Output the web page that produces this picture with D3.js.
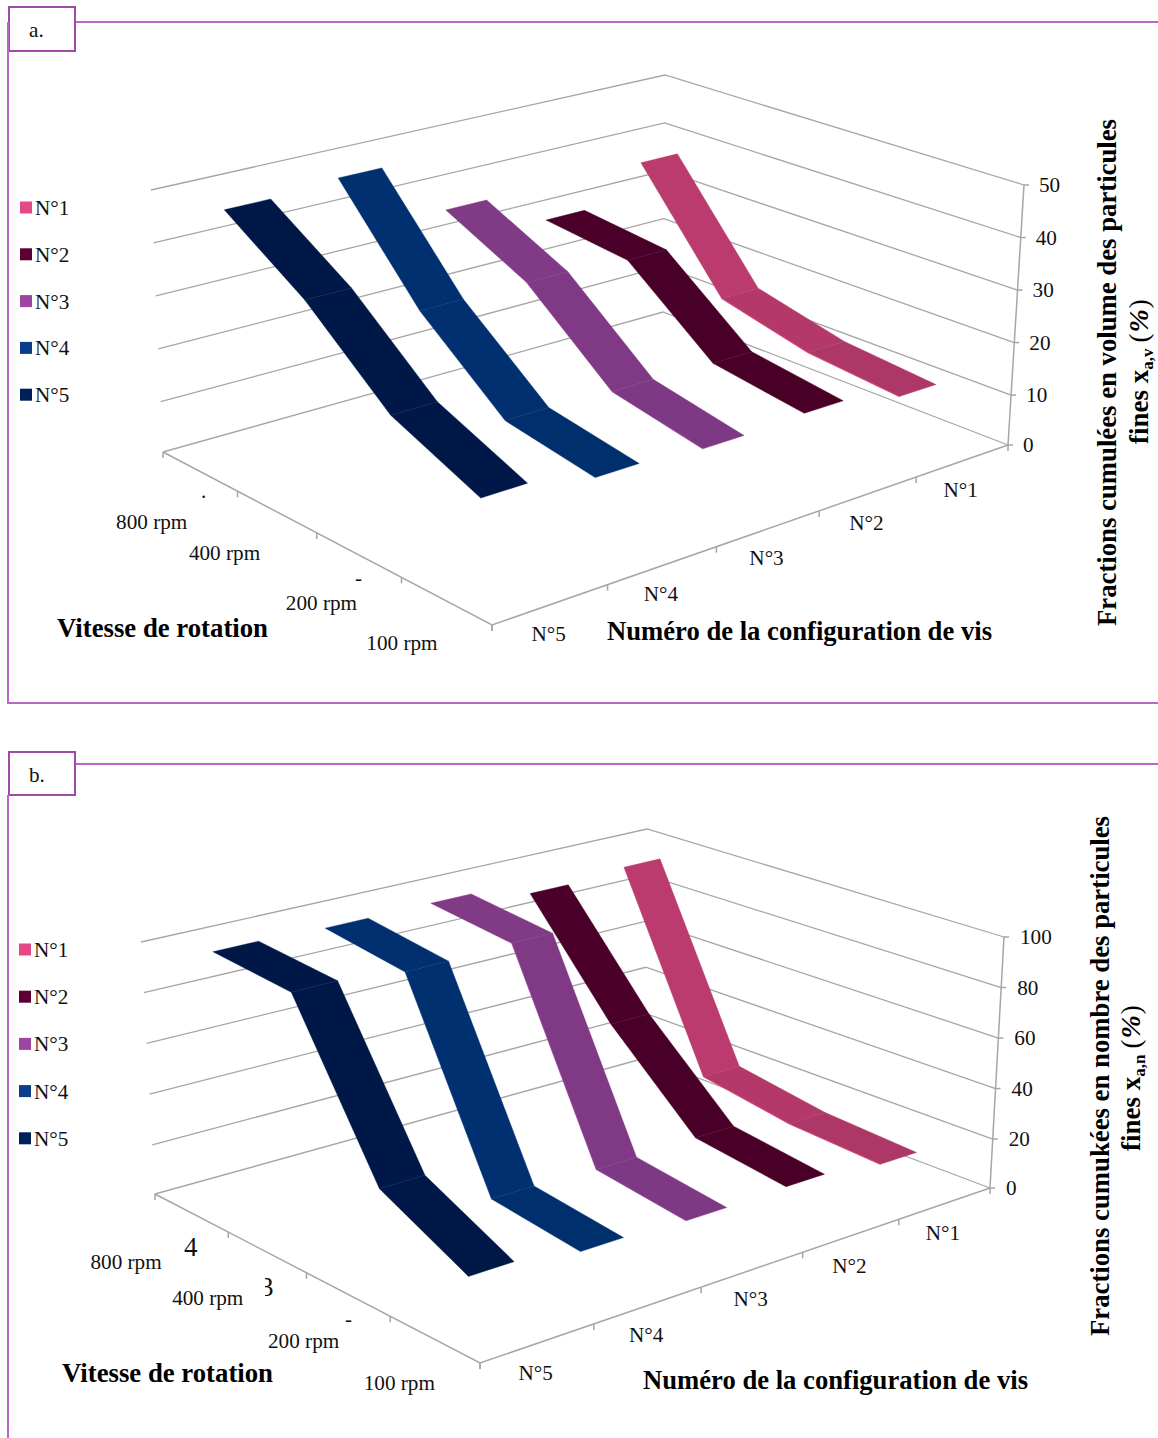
<!DOCTYPE html>
<html><head><meta charset="utf-8">
<script src="https://cdn.jsdelivr.net/npm/d3@7/dist/d3.min.js"></script>
<style>html,body{margin:0;padding:0;background:#fff}svg{display:block;font-family:"Liberation Serif",serif}</style>
</head><body><svg id="c" width="1158" height="1438"></svg>
<script>
// categories
const speeds=["800 rpm","400 rpm","200 rpm","100 rpm"];
const configs=["N°1","N°2","N°3","N°4","N°5"];
const ticksA=[0,10,20,30,40,50];
const ticksB=[0,20,40,60,80,100];
// values, one list per configuration, in the order of speeds
const volumeN1=[37.6,16.2,12.0,10.3];
const volumeN2=[30.8,28.9,15.5,13.0];
const volumeN3=[37.7,29.8,15.9,12.5];
const volumeN4=[48.8,29.9,16.5,13.6];
const volumeN5=[47.8,37.5,23.6,16.5];
const numberN1=[95.0,19.3,13.2,10.9];
const numberN2=[93.1,51.5,19.3,14.3];
const numberN3=[98.6,94.4,18.7,13.7];
const numberN4=[98.4,93.5,19.7,15.1];
const numberN5=[99.3,96.5,36.2,19.5];
// colours
const legendColors=["#e34a85","#5c0033","#9d45a3","#0a3d8a","#00205a"];
const ribbonColors=["#bb3b6e","#4a0028","#803a86","#003070","#001848"];
const segmentShade=[0.11,0.02,0.03,0.02,0.02];
const edgeOpacity=[0.85,0,0.5,0.2,0];

const svg=d3.select("#c");
const axisCol="#a6a6a6", frameCol="#bb66c8", boxCol="#a04aa8", textCol="#111";
const line=d3.line();
const quad=(q)=>{const [[x0,y0],[x1,y1],[x2,y2],[x3,y3]]=q;
 const dx1=x1-x2,dx2=x3-x2,sx=x0-x1+x2-x3,dy1=y1-y2,dy2=y3-y2,sy=y0-y1+y2-y3,D=dx1*dy2-dx2*dy1;
 const g=(sx*dy2-dx2*sy)/D,h=(dx1*sy-sx*dy1)/D,a=x1-x0+g*x1,b=x3-x0+h*x3,d=y1-y0+g*y1,e=y3-y0+h*y3;
 return (u,v)=>{const w=g*u+h*v+1;return [(a*u+b*v+x0)/w,(d*u+e*v+y0)/w];};};

function chart(cfg){
 const floor=quad(cfg.floor),top=quad(cfg.top);
 const sx=d3.scaleBand().domain(configs.slice().reverse()).range([0,1]);
 const rx=d3.scaleBand().domain(speeds.slice().reverse()).range([0,1]);
 const vy=d3.scaleLinear().domain([0,cfg.ticks[1],d3.max(cfg.ticks)]).range([0,cfg.firstStep,1]);
 const P=(s,r,val)=>{const a=floor(s,r),b=top(s,r),t=vy(val);return [a[0]+(b[0]-a[0])*t,a[1]+(b[1]-a[1])*t];};
 const g=svg.append("g");
 const tick=(p,dx,dy)=>g.append("line").attr("x1",p[0]).attr("y1",p[1]).attr("x2",p[0]+dx).attr("y2",p[1]+dy).attr("stroke",axisCol).attr("stroke-width",1.5);
 const label=(x,y,t,anchor)=>g.append("text").attr("x",x).attr("y",y).attr("font-size",21.2).attr("fill",textCol).attr("text-anchor",anchor||"start").text(t);

 // walls and value axis
 cfg.ticks.forEach(t=>{
  g.append("path").attr("d",line([P(0,1,t),P(1,1,t),P(1,0,t)])).attr("fill","none").attr("stroke",axisCol).attr("stroke-width",1.3);
  const p=P(1,0,t); tick(p,5,0);
  label(p[0]+cfg.valDx,p[1]+7,t);
 });
 g.append("path").attr("d",line([P(1,0,0),P(1,0,d3.max(cfg.ticks))])).attr("stroke",axisCol).attr("stroke-width",1.5).attr("fill","none");
 // floor axes
 g.append("path").attr("d",line([P(0,1,0),P(0,0,0),P(1,0,0)])).attr("stroke",axisCol).attr("stroke-width",1.5).attr("fill","none");
 d3.range(0,speeds.length+1).forEach(i=>tick(P(0,i/speeds.length,0),0,6));
 d3.range(0,configs.length+1).forEach(i=>tick(P(i/configs.length,0,0),0,6));
 speeds.forEach((sp,i)=>{const p=P(0,rx(sp)+rx.bandwidth()/2,0);label(p[0]+cfg.speedOff[i][0],p[1]+cfg.speedOff[i][1],sp,"middle");});
 configs.forEach(c=>{const p=P(sx(c)+sx.bandwidth()/2,0,0);label(p[0]-2,p[1]+cfg.confDy,c,"middle");});

 // ribbons
 const hw=sx.bandwidth()*0.2;
 configs.forEach((c,k)=>{
  const s=sx(c)+sx.bandwidth()/2, vals=cfg.series[k];
  const rows=vals.map((v,i)=>{const r=rx(speeds[i])+rx.bandwidth()/2;return [P(s-hw,r,v),P(s+hw,r,v)];});
  for(let i=0;i<rows.length-1;i++){
   const col=d3.color(ribbonColors[k]).darker(i*segmentShade[k]);
   g.append("path").attr("d",line([rows[i][0],rows[i][1],rows[i+1][1],rows[i+1][0]])+"Z").attr("fill",col).attr("stroke",col).attr("stroke-width",0.4);
  }
  g.append("path").attr("d",line(rows.slice(1).map(d=>d[0]))).attr("fill","none").attr("stroke",legendColors[k]).attr("stroke-width",1).attr("stroke-opacity",edgeOpacity[k]);
 });

 // legend
 configs.forEach((c,i)=>{
  const y=cfg.legend[1]+i*cfg.legend[2];
  g.append("rect").attr("x",cfg.legend[0]).attr("y",y-6.5).attr("width",12).attr("height",12).attr("fill",legendColors[i]);
  label(cfg.legend[0]+15,y+7,c);
 });

 // frame
 const [bx,by,bw,bh]=cfg.box;
 g.append("path").attr("d",line(cfg.frame)).attr("fill","none").attr("stroke",frameCol).attr("stroke-width",2);
 g.append("rect").attr("x",bx).attr("y",by).attr("width",bw).attr("height",bh).attr("fill","#fff").attr("stroke",boxCol).attr("stroke-width",2);
 label(bx+20,by+30,cfg.boxText);

 // axis titles
 const bold=(x,y,t,len)=>g.append("text").attr("x",x).attr("y",y).attr("font-size",27).attr("font-weight","bold").attr("fill","#000").attr("textLength",len).attr("lengthAdjust","spacingAndGlyphs").text(t);
 bold(cfg.t1[0],cfg.t1[1],"Vitesse de rotation",cfg.t1[2]);
 bold(cfg.t2[0],cfg.t2[1],"Numéro de la configuration de vis",cfg.t2[2]);
 const [ax,ay,al]=cfg.t3;
 bold(0,0,cfg.t3t,al).attr("transform",`translate(${ax},${ay}) rotate(-90)`);
 const [lx,ly]=cfg.t4;
 const t4=g.append("text").attr("transform",`translate(${lx},${ly}) rotate(-90)`).attr("font-size",27).attr("font-weight","bold").attr("fill","#000").attr("xml:space","preserve");
 t4.append("tspan").text("fines x");
 t4.append("tspan").attr("font-size",17).attr("dy",5).text(cfg.sub);
 t4.append("tspan").attr("dy",-5).attr("dx",6).attr("font-weight","normal").text("(");
 t4.append("tspan").attr("dx",1).attr("font-style","italic").attr("font-size",28).text("%");
 t4.append("tspan").attr("dx",1).attr("font-weight","normal").text(")");

 cfg.marks.forEach(m=>{
  const t=g.append("text").attr("x",m[0]).attr("y",m[1]).attr("font-size",m[2]).attr("fill","#111").text(m[3]);
  if(m[4]) t.attr("clip-path",m[4]);
 });
}

svg.append("defs").append("clipPath").attr("id","cut3").attr("clipPathUnits","userSpaceOnUse").append("rect").attr("x",265).attr("y",1270).attr("width",20).attr("height",40);

chart({floor:[[492,625],[1008,445],[663,312],[163,452]],top:[[491,340],[1024,185],[665,75],[151,190]],
 ticks:ticksA,firstStep:0.192,valDx:15,series:[volumeN1,volumeN2,volumeN3,volumeN4,volumeN5],
 speedOff:[[-48,58],[-52,48],[-37,55],[-44,49]],confDy:36,legend:[20,208,46.8],
 frame:[[75,22],[1158,22]],box:[9,7,66,44],boxText:"a.",
 t1:[57,637,211],t2:[607,640,385],t3:[1116,626,507],t3t:"Fractions cumulées en volume des particules",t4:[1148,444],sub:"a,v",
 marks:[[201,498,21,"."],[355,585,21,"-"]]});
svg.append("path").attr("d",line([[8,22],[8,703],[1158,703]])).attr("fill","none").attr("stroke",frameCol).attr("stroke-width",2);

chart({floor:[[480,1363],[990,1188],[645,1058],[155,1194]],top:[[478,1089],[1004,937],[647,829],[141,942]],
 ticks:ticksB,firstStep:0.195,valDx:16,series:[numberN1,numberN2,numberN3,numberN4,numberN5],
 speedOff:[[-65,56],[-59,53],[-44,54],[-35,51]],confDy:37,legend:[19,950,47.2],
 frame:[[75,764],[1158,764]],box:[9,752,66,43],boxText:"b.",
 t1:[62,1382,211],t2:[643,1389,385],t3:[1109,1336,520],t3t:"Fractions cumukées en nombre des particules",t4:[1140,1151],sub:"a,n",
 marks:[[184,1256,27,"4"],[260,1296,27,"3","url(#cut3)"],[345,1326,21,"-"]]});
svg.append("path").attr("d",line([[8,795],[8,1438]])).attr("fill","none").attr("stroke",frameCol).attr("stroke-width",2);
</script></body></html>
